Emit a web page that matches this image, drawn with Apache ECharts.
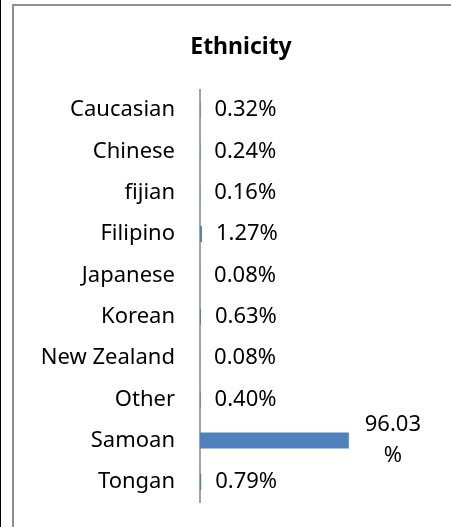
<!DOCTYPE html>
<html>
<head>
<meta charset="utf-8">
<script src="https://cdn.jsdelivr.net/npm/echarts@6/dist/echarts.min.js"></script>
<style>
html, body { margin: 0; padding: 0; background: #fff; }
body { width: 451px; height: 527px; position: relative; overflow: hidden; }
.edge { position: absolute; left: 0; top: 0; width: 1px; height: 527px; background: #000; }
.frame { position: absolute; left: 12px; top: 4px; right: -10px; bottom: -10px; border-left: 2px solid #8e8e8e; border-top: 2px solid #8e8e8e; }
#chart { position: absolute; left: 0; top: 0; width: 451px; height: 527px; }
</style>
</head>
<body>
<div class="edge"></div>
<div class="frame"></div>
<div id="chart"></div>
<script>
const categories = ['Caucasian', 'Chinese', 'fijian', 'Filipino', 'Japanese', 'Korean', 'New Zealand', 'Other', 'Samoan', 'Tongan']
const shares = [0.32, 0.24, 0.16, 1.27, 0.08, 0.63, 0.08, 0.40, 96.03, 0.79]

const font = '"Noto Sans", sans-serif'
const chart = echarts.init(document.getElementById('chart'))

chart.setOption({
  animation: false,
  title: {
    text: 'Ethnicity',
    left: 236,
    textAlign: 'center',
    top: 31,
    textStyle: { fontFamily: font, fontSize: 23, fontWeight: 'bold', color: '#000' },
  },
  grid: {
    left: 200,
    right: 96,
    top: 89.5,
    bottom: 24.5,
    containLabel: false,
  },
  xAxis: {
    type: 'value',
    min: 0,
    max: 100,
    show: false,
  },
  yAxis: {
    type: 'category',
    data: categories,
    inverse: true,
    axisLine: { show: true, lineStyle: { color: '#868686', width: 1.5 } },
    axisTick: { show: false },
    axisLabel: { margin: 25, fontFamily: font, fontSize: 22, color: '#000' },
    splitLine: { show: false },
  },
  series: [
    {
      type: 'bar',
      barWidth: 16,
      itemStyle: { color: '#4F81BD' },
      label: {
        show: true,
        position: 'right',
        distance: 14,
        fontFamily: font,
        fontSize: 22,
        color: '#000',
        formatter: (p) => p.value.toFixed(2) + '%',
      },
      data: shares.map((v) => v > 50
        ? {
            value: v,
            label: {
              distance: 44,
              align: 'center',
              lineHeight: 31,
              formatter: (p) => p.value.toFixed(2) + '\n%',
            },
          }
        : v),
    },
  ],
})
</script>
</body>
</html>
